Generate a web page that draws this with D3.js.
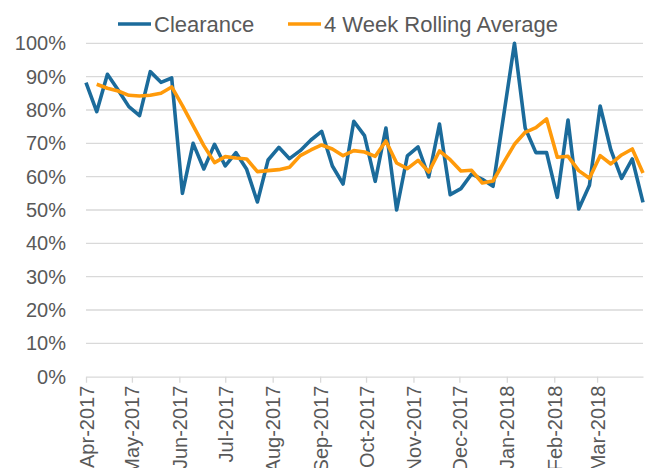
<!DOCTYPE html>
<html>
<head>
<meta charset="utf-8">
<script src="https://cdn.jsdelivr.net/npm/d3@7"></script>
<style>
  body { margin: 0; background: #fff; }
  svg { display: block; font-family: "Liberation Sans", Arial, sans-serif; }
  .grid line { stroke: #d9d9d9; stroke-width: 1.3; }
  .axis-x path, .axis-x line { stroke: #d9d9d9; stroke-width: 1.3; }
  .axis text { fill: #595959; font-size: 20px; }
</style>
</head>
<body>
<div id="chart"></div>
<script>
var weeks = [
  "2017-04-01","2017-04-08","2017-04-15","2017-04-22","2017-04-29",
  "2017-05-06","2017-05-13","2017-05-20","2017-05-27",
  "2017-06-03","2017-06-10","2017-06-17","2017-06-24",
  "2017-07-01","2017-07-08","2017-07-15","2017-07-22","2017-07-29",
  "2017-08-05","2017-08-12","2017-08-19","2017-08-26",
  "2017-09-02","2017-09-09","2017-09-16","2017-09-23","2017-09-30",
  "2017-10-07","2017-10-14","2017-10-21","2017-10-28",
  "2017-11-04","2017-11-11","2017-11-18","2017-11-25",
  "2017-12-02","2017-12-09","2017-12-16","2017-12-23","2017-12-30",
  "2018-01-06","2018-01-13","2018-01-20","2018-01-27",
  "2018-02-03","2018-02-10","2018-02-17","2018-02-24",
  "2018-03-03","2018-03-10","2018-03-17","2018-03-24","2018-03-31"
];

var clearance = [
  88.2, 79.5, 90.7, 86.0, 81.0, 78.3, 91.5, 88.3, 89.6, 55.0,
  70.0, 62.3, 69.7, 63.2, 67.2, 62.2, 52.4, 65.0, 68.8, 65.4,
  67.8, 71.0, 73.6, 63.2, 57.8, 76.6, 72.3, 58.6, 74.6, 50.0,
  66.2, 68.9, 59.9, 75.8, 54.6, 56.4, 60.8, 59.2, 57.1, 78.5,
  100, 74.6, 67.2, 67.2, 53.8, 77.0, 50.3, 57.4, 81.2, 68.0,
  59.5, 65.3, 52.3
];

var rolling = [
  null, 87.7, 86.5, 85.7, 84.4, 84.2, 84.4, 85.0, 86.9, 81.3,
  75.3, 69.3, 64.2, 66.0, 65.6, 65.3, 61.5, 61.8, 62.1, 62.8,
  66.3, 68.0, 69.5, 68.3, 66.3, 67.8, 67.4, 66.1, 70.7, 64.1,
  62.4, 64.9, 61.4, 67.7, 65.1, 61.7, 61.9, 58.1, 58.7, 64.3,
  69.7, 73.3, 74.7, 77.3, 65.8, 66.1, 61.8, 59.5, 66.3, 63.8,
  66.5, 68.3, 61.1
];

var seriesNames = ["Clearance", "4 Week Rolling Average"];
var seriesColors = ["#1b6b9b", "#ff9a0a"];
var yTicks = [0, 0.1, 0.2, 0.3, 0.4, 0.5, 0.6, 0.7, 0.8, 0.9, 1.0];

var W = 648, H = 468;
var M = {t: 43.3, r: 5, b: 91.3, l: 86};
var w = W - M.l - M.r, h = H - M.t - M.b;

var parse = d3.utcParse("%Y-%m-%d");
var dates = weeks.map(parse);

var scaleX = d3.scaleUtc()
  .domain(d3.extent(dates))
  .range([0, w]);

var scaleY = d3.scaleLinear()
  .domain([0, 1])
  .range([h, 0]);

var svg = d3.select("#chart").append("svg")
  .attr("width", W)
  .attr("height", H);

var g = svg.append("g")
  .attr("transform", "translate(" + M.l + "," + M.t + ")");

// gridlines
g.append("g").attr("class", "grid")
  .selectAll("line").data(yTicks.slice(1)).enter().append("line")
  .attr("x1", 0).attr("x2", w)
  .attr("y1", function(d) { return scaleY(d); })
  .attr("y2", function(d) { return scaleY(d); });

// y axis (labels only)
var axisY = d3.axisLeft(scaleY)
  .tickValues(yTicks)
  .tickFormat(d3.format(".0%"))
  .tickSize(0)
  .tickPadding(20);

g.append("g").attr("class", "axis axis-y")
  .call(axisY)
  .call(function(s) { s.select(".domain").remove(); });

// x axis
var axisX = d3.axisBottom(scaleX)
  .ticks(d3.utcMonth.every(1))
  .tickFormat(d3.utcFormat("%b-%Y"))
  .tickSize(6)
  .tickSizeOuter(0);

g.append("g").attr("class", "axis axis-x")
  .attr("transform", "translate(0," + h + ")")
  .call(axisX)
  .selectAll("text")
    .attr("transform", "rotate(-90)")
    .attr("text-anchor", "end")
    .attr("x", -9)
    .attr("y", 0)
    .attr("dy", "0.35em");

// lines
var series = [clearance, rolling];
var line = d3.line()
  .defined(function(d) { return d.v != null; })
  .x(function(d) { return scaleX(d.date); })
  .y(function(d) { return scaleY(d.v / 100); });

series.forEach(function(vals, i) {
  var pts = vals.map(function(v, j) { return {date: dates[j], v: v}; });
  g.append("path")
    .datum(pts)
    .attr("fill", "none")
    .attr("stroke", seriesColors[i])
    .attr("stroke-width", 3.6)
    .attr("stroke-linejoin", "round")
    .attr("d", line);
});

// legend
var legendX = [118, 288];
var legend = svg.append("g").attr("class", "legend");
seriesNames.forEach(function(name, i) {
  var lg = legend.append("g").attr("transform", "translate(" + legendX[i] + ",24)");
  lg.append("line")
    .attr("x1", 0).attr("x2", 33)
    .attr("stroke", seriesColors[i])
    .attr("stroke-width", 3.6);
  lg.append("text")
    .attr("x", 36)
    .attr("dy", "0.35em")
    .style("font-size", "22px")
    .style("fill", "#595959")
    .text(name);
});
</script>
</body>
</html>
